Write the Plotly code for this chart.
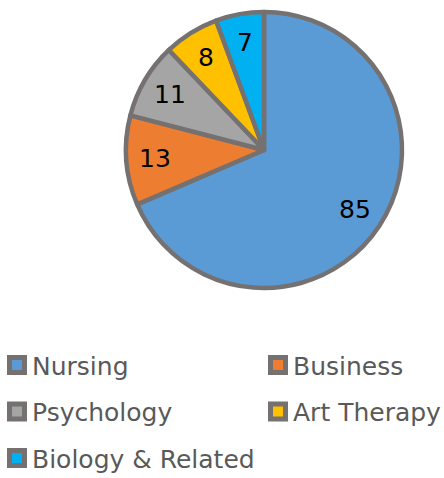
import math
import plotly.graph_objects as go

labels = ["Nursing", "Business", "Psychology", "Art Therapy", "Biology & Related"]
values = [85, 13, 11, 8, 7]
colors = ["#5B9BD5", "#ED7D31", "#A5A5A5", "#FFC000", "#00B0F0"]

W, H = 444, 478
cx, cy, r = 264, 150, 138
EDGE = "#767171"
FONT = "DejaVu Sans"

fig = go.Figure(go.Pie(
    labels=labels, values=values, sort=False, direction="clockwise", rotation=0,
    marker=dict(colors=colors, line=dict(color=EDGE, width=4.5)),
    textinfo="none", showlegend=False,
    domain=dict(x=[(cx - r) / W, (cx + r) / W], y=[1 - (cy + r) / H, 1 - (cy - r) / H]),
    hoverinfo="label+value",
))

# value labels placed at mid-angle of each slice
total = sum(values)
cum = 0
annotations = []
for v in values:
    mid = (cum + v / 2) / total * 2 * math.pi
    cum += v
    lx = cx + 0.79 * r * math.sin(mid)
    ly = cy - 0.79 * r * math.cos(mid)
    annotations.append(dict(x=lx / W, y=1 - ly / H, xref="paper", yref="paper",
                            text=str(v), showarrow=False, xanchor="center", yanchor="middle",
                            font=dict(family=FONT, size=25, color="black")))

# legend (two columns)
shapes = []
col_x = [7, 268]
row_y = [365, 411.5, 458]
sw = 20
for i, (lab, col) in enumerate(zip(labels, colors)):
    x0 = col_x[i % 2]
    yc = row_y[i // 2]
    shapes.append(dict(type="rect", xref="paper", yref="paper",
                       x0=(x0 + 2.5) / W, x1=(x0 + sw - 2.5) / W,
                       y0=1 - (yc + sw / 2 - 2.5) / H, y1=1 - (yc - sw / 2 + 2.5) / H,
                       fillcolor=col, line=dict(color=EDGE, width=5)))
    annotations.append(dict(x=(x0 + 23) / W, y=1 - (yc + 1) / H, xref="paper", yref="paper",
                            text=lab, showarrow=False, xanchor="left", yanchor="middle",
                            font=dict(family=FONT, size=25, color="#595959")))

fig.update_layout(
    width=W, height=H, margin=dict(l=0, r=0, t=0, b=0),
    paper_bgcolor="white", plot_bgcolor="white",
    showlegend=False, annotations=annotations, shapes=shapes,
)
fig.write_html("out.html", config={"displayModeBar": False},
               post_script="document.body.style.margin='0';")
